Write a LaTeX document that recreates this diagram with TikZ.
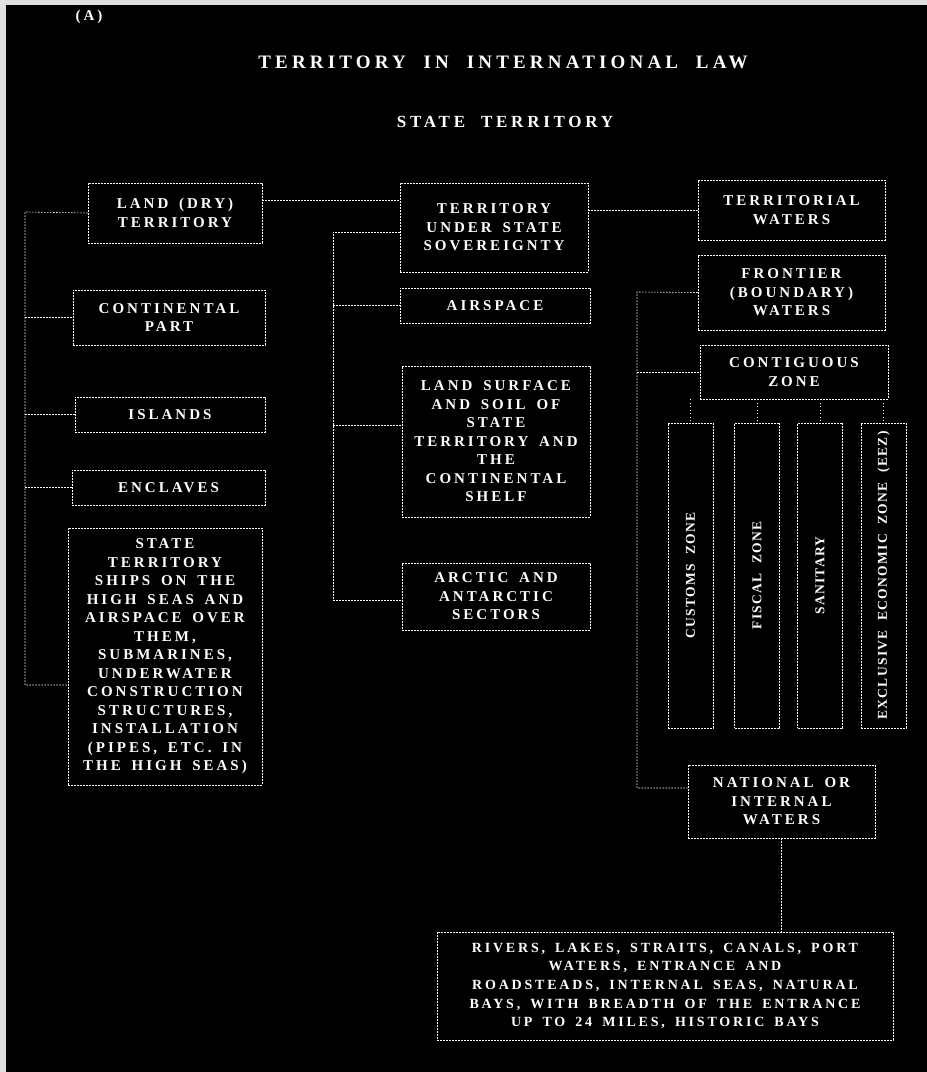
\documentclass[tikz,border=0pt]{standalone}
\usepackage{fontspec}
\setmainfont{Liberation Serif}
\newfontfamily\boxfont{Liberation Serif}[LetterSpace=20,WordSpace=1.6]
\newfontfamily\titlefont{Liberation Serif}[LetterSpace=22,WordSpace=2]
\newfontfamily\vfont{Liberation Serif}[LetterSpace=10,WordSpace=2]
\begin{document}
\begin{tikzpicture}[x=1pt,y=-1pt,
  box/.style={draw=white, line width=0.8pt, dash pattern=on 2pt off 1pt,
    text=white, align=center, inner sep=0pt,
    font=\boxfont\bfseries\fontsize{15}{18.5}\selectfont},
  vbox/.style={draw=white, line width=0.8pt, dash pattern=on 2pt off 1pt,
    text=white, inner sep=0pt, minimum width=45pt, minimum height=305pt,
    font=\vfont\bfseries\fontsize{13.5}{15}\selectfont},
  ttl/.style={text=white, inner sep=0pt},
  conn/.style={draw=white, line width=0.6pt, dash pattern=on 1.5pt off 1.5pt},
  drop/.style={draw=white, line width=0.5pt, dash pattern=on 1pt off 2.5pt}]
\fill[black!12] (0,0) rectangle (927,1072);
\fill[black] (6,5) rectangle (927,1072);
\useasboundingbox (0,0) rectangle (927,1072);

% titles
\node[ttl, font=\boxfont\bfseries\fontsize{15}{16}\selectfont] (A) at (89,17) {(A)};
\node[ttl, font=\titlefont\bfseries\fontsize{19}{20}\selectfont] (title) at (503,62) {TERRITORY IN INTERNATIONAL LAW};
\node[ttl, font=\titlefont\bfseries\fontsize{17}{18}\selectfont] (sub) at (505,122) {STATE TERRITORY};

% left column
\node[box, minimum width=174pt, minimum height=60pt] (land) at (175,213) {LAND (DRY)\\TERRITORY};
\node[box, minimum width=192pt, minimum height=55pt] (cp) at (169,317.5) {CONTINENTAL\\PART};
\node[box, minimum width=190pt, minimum height=35pt] (isl) at (170,414.5) {ISLANDS};
\node[box, minimum width=193pt, minimum height=35pt] (enc) at (168.5,487.5) {ENCLAVES};
\node[box, minimum width=194pt, minimum height=257pt] (ships) at (165,656.5) {STATE\\TERRITORY\\SHIPS ON THE\\HIGH SEAS AND\\AIRSPACE OVER\\THEM,\\SUBMARINES,\\UNDERWATER\\CONSTRUCTION\\STRUCTURES,\\INSTALLATION\\(PIPES, ETC. IN\\THE HIGH SEAS)};

% middle column
\node[box, minimum width=188pt, minimum height=89pt] (tus) at (494,227.5) {TERRITORY\\UNDER STATE\\SOVEREIGNTY};
\node[box, minimum width=190pt, minimum height=35pt] (air) at (495,305.5) {AIRSPACE};
\node[box, minimum width=188pt, minimum height=151pt] (ls) at (496,441.5) {LAND SURFACE\\AND SOIL OF\\STATE\\TERRITORY AND\\THE\\CONTINENTAL\\SHELF};
\node[box, minimum width=188pt, minimum height=67pt] (arc) at (496,596.5) {ARCTIC AND\\ANTARCTIC\\SECTORS};

% right column
\node[box, minimum width=187pt, minimum height=60pt] (tw) at (791.5,210) {TERRITORIAL\\WATERS};
\node[box, minimum width=187pt, minimum height=75pt] (fw) at (791.5,292.5) {FRONTIER\\(BOUNDARY)\\WATERS};
\node[box, minimum width=188pt, minimum height=54pt] (cz) at (794,372) {CONTIGUOUS\\ZONE};
\node[vbox] (v1) at (690.5,575.5) {\rotatebox{90}{CUSTOMS ZONE}};
\node[vbox] (v2) at (757,575.5) {\rotatebox{90}{FISCAL ZONE}};
\node[vbox] (v3) at (820,575.5) {\rotatebox{90}{SANITARY}};
\node[vbox] (v4) at (883.5,575.5) {\rotatebox{90}{EXCLUSIVE ECONOMIC ZONE (EEZ)}};
\node[box, minimum width=187pt, minimum height=73pt] (nat) at (781.5,801.5) {NATIONAL OR\\INTERNAL\\WATERS};
\node[box, minimum width=456pt, minimum height=108pt, font=\boxfont\bfseries\fontsize{14}{18.7}\selectfont] (riv) at (665,986) {RIVERS, LAKES, STRAITS, CANALS, PORT\\WATERS, ENTRANCE AND\\ROADSTEADS, INTERNAL SEAS, NATURAL\\BAYS, WITH BREADTH OF THE ENTRANCE\\UP TO 24 MILES, HISTORIC BAYS};

% connector coordinates
\coordinate (LT) at (25,212);
\coordinate (LB) at (25,685);
\coordinate (MT) at (333,232);
\coordinate (MB) at (333,600);
\coordinate (MLS) at (333,425);
\coordinate (RT) at (637,292);
\coordinate (RB) at (637,788);
\coordinate (LTU) at (268,200);

% left trunk
\draw[conn] (land.west) -- (LT) -- (LB) -- (LB -| ships.west);
\draw[conn] (LT |- cp.west) -- (cp.west);
\draw[conn] (LT |- isl.west) -- (isl.west);
\draw[conn] (LT |- enc.west) -- (enc.west);

% top links
\draw[conn] (land.east |- LTU) -- (LTU -| tus.west);
\draw[conn] (tus.east |- tw.west) -- (tw.west);

% middle trunk
\draw[conn] (MT -| tus.west) -- (MT) -- (MB) -- (MB -| arc.west);
\draw[conn] (MT |- air.west) -- (air.west);
\draw[conn] (MLS) -- (MLS -| ls.west);

% right trunk
\draw[conn] (fw.west) -- (RT) -- (RB) -- (RB -| nat.west);
\draw[conn] (RT |- cz.west) -- (cz.west);

% contiguous zone to its zones
\draw[drop] (v1.north |- cz.south) -- (v1.north);
\draw[drop] (v2.north |- cz.south) -- (v2.north);
\draw[drop] (v3.north |- cz.south) -- (v3.north);
\draw[drop] (v4.north |- cz.south) -- (v4.north);

% national waters to rivers
\draw[conn] (nat.south) -- (nat.south |- riv.north);
\end{tikzpicture}
\end{document}
